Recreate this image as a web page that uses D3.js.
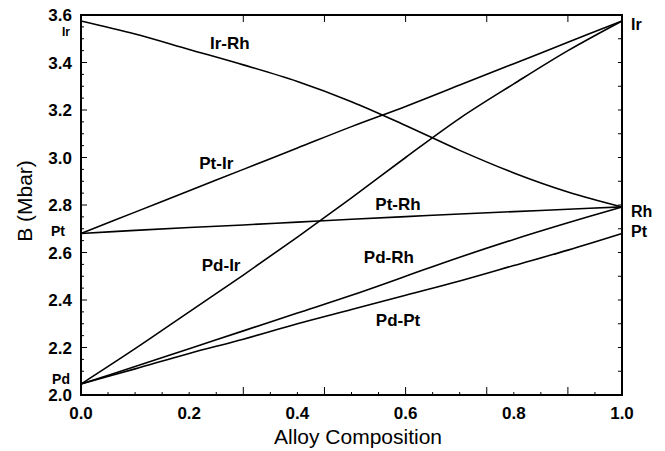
<!DOCTYPE html>
<html>
<head>
<meta charset="utf-8">
<script src="https://cdn.jsdelivr.net/npm/d3@7/dist/d3.min.js"></script>
<style>
  html, body { margin: 0; padding: 0; background: #fff; }
  svg { display: block; font-family: "Liberation Sans", Arial, Helvetica, sans-serif; }
</style>
</head>
<body>
<svg id="chart" width="665" height="451"></svg>
<script>
// Bulk modulus of binary alloys versus composition
const composition = [0, 0.1, 0.2, 0.3, 0.4, 0.5, 0.6, 0.7, 0.8, 0.9, 1.0];

const irRh = [3.575, 3.52, 3.455, 3.39, 3.32, 3.235, 3.135, 3.03, 2.935, 2.855, 2.792];
const ptIr = [2.68, 2.77, 2.86, 2.95, 3.04, 3.13, 3.215, 3.305, 3.395, 3.485, 3.575];
const pdIr = [2.046, 2.195, 2.35, 2.505, 2.665, 2.83, 3.0, 3.165, 3.31, 3.45, 3.575];
const ptRh = [2.68, 2.693, 2.705, 2.716, 2.728, 2.74, 2.751, 2.762, 2.772, 2.782, 2.792];
const pdRh = [2.046, 2.12, 2.195, 2.27, 2.345, 2.42, 2.50, 2.58, 2.655, 2.725, 2.792];
const pdPt = [2.046, 2.11, 2.175, 2.235, 2.30, 2.36, 2.42, 2.48, 2.545, 2.61, 2.68];

const seriesNames = ["Ir-Rh", "Pt-Ir", "Pd-Ir", "Pt-Rh", "Pd-Rh", "Pd-Pt"];
const seriesValues = [irRh, ptIr, pdIr, ptRh, pdRh, pdPt];

// Pure-element values at the two ends of the axis
const leftElements = ["Ir", "Pt", "Pd"];
const leftValues = [3.575, 2.68, 2.046];
const rightElements = ["Ir", "Rh", "Pt"];
const rightValues = [3.575, 2.792, 2.68];

const xTickLabels = [0, 0.2, 0.4, 0.6, 0.8, 1.0];
const yTickLabels = [2.0, 2.2, 2.4, 2.6, 2.8, 3.0, 3.2, 3.4, 3.6];

const margin = { top: 15, right: 43, bottom: 56, left: 81 };
const W = 665, H = 451;
const iw = W - margin.left - margin.right;
const ih = H - margin.top - margin.bottom;

const svg = d3.select("#chart");
const g = svg.append("g").attr("transform", `translate(${margin.left},${margin.top})`);

const x = d3.scaleLinear().domain([0, 1]).range([0, iw]);
const y = d3.scaleLinear().domain([2.0, 3.6]).range([ih, 0]);

// Frame ticks, drawn inward
const minorX = d3.range(0.05, 1.0, 0.05);
const longX = [0.3, 0.45, 0.6, 0.75, 0.9];
const minorY = d3.range(2.05, 3.59, 0.05);
const longY = [2.2, 2.4, 2.6, 2.8, 3.0, 3.2, 3.4];
const isIn = (list, d) => list.some(v => Math.abs(v - d) < 1e-6);

g.append("g").attr("class", "xticks-bottom").selectAll("line").data(minorX).join("line")
  .attr("x1", d => x(d)).attr("x2", d => x(d))
  .attr("y1", ih).attr("y2", d => ih - (isIn(longX, d) ? 8 : 3))
  .attr("stroke", "#000").attr("stroke-width", 1);

g.append("g").attr("class", "xticks-top").selectAll("line").data(longX).join("line")
  .attr("x1", d => x(d)).attr("x2", d => x(d))
  .attr("y1", 0).attr("y2", 7)
  .attr("stroke", "#000").attr("stroke-width", 1);

g.append("g").attr("class", "yticks-left").selectAll("line").data(minorY).join("line")
  .attr("x1", 0).attr("x2", d => (isIn(longY, d) ? 6 : 3))
  .attr("y1", d => y(d)).attr("y2", d => y(d))
  .attr("stroke", "#000").attr("stroke-width", 1);

g.append("g").attr("class", "yticks-right").selectAll("line").data(d3.range(2.1, 3.55, 0.1)).join("line")
  .attr("x1", iw).attr("x2", iw - 4)
  .attr("y1", d => y(d)).attr("y2", d => y(d))
  .attr("stroke", "#000").attr("stroke-width", 1);

// Tick labels
g.append("g").selectAll("text").data(xTickLabels).join("text")
  .attr("x", d => x(d)).attr("y", ih + 24)
  .attr("text-anchor", "middle")
  .attr("font-size", 17).attr("font-weight", "bold").attr("fill", "#000")
  .text(d => d.toFixed(1));

g.append("g").selectAll("text").data(yTickLabels).join("text")
  .attr("x", -9).attr("y", d => y(d) + 6)
  .attr("text-anchor", "end")
  .attr("font-size", 17).attr("font-weight", "bold").attr("fill", "#000")
  .text(d => d.toFixed(1));

// Axis titles
svg.append("text")
  .attr("x", 358).attr("y", 444)
  .attr("text-anchor", "middle")
  .attr("font-size", 21).attr("fill", "#000")
  .text("Alloy Composition");

svg.append("text")
  .attr("transform", "translate(32,201) rotate(-90)")
  .attr("text-anchor", "middle")
  .attr("font-size", 21).attr("fill", "#000")
  .text("B (Mbar)");

// Curves
const line = d3.line()
  .x((d, i) => x(composition[i]))
  .y(d => y(d))
  .curve(d3.curveCatmullRom.alpha(0.5));

g.append("g").selectAll("path").data(seriesValues).join("path")
  .attr("d", d => line(d))
  .attr("fill", "none")
  .attr("stroke", "#000")
  .attr("stroke-width", 1.6);

// Plot frame
g.append("rect")
  .attr("x", 0).attr("y", 0).attr("width", iw).attr("height", ih)
  .attr("fill", "none").attr("stroke", "#000").attr("stroke-width", 2);

// Curve labels, positioned in data coordinates
const labelPos = [
  [0.275, 3.482], [0.25, 2.977], [0.259, 2.547],
  [0.586, 2.804], [0.569, 2.583], [0.586, 2.316]
];
g.append("g").selectAll("text").data(seriesNames).join("text")
  .attr("x", (d, i) => x(labelPos[i][0]))
  .attr("y", (d, i) => y(labelPos[i][1]) + 6)
  .attr("text-anchor", "middle")
  .attr("font-size", 17).attr("font-weight", "bold").attr("fill", "#000")
  .text(d => d);

// Element labels at the ends
const leftOffsets = [15, 2, 0];
const leftX = [-11, -16, -11];
const leftSize = [12, 14, 14];
g.append("g").selectAll("text").data(leftElements).join("text")
  .attr("x", (d, i) => leftX[i])
  .attr("y", (d, i) => y(leftValues[i]) + leftOffsets[i])
  .attr("text-anchor", "end")
  .attr("font-size", (d, i) => leftSize[i]).attr("font-weight", "bold").attr("fill", "#000")
  .text(d => d);

const rightOffsets = [9, 10, 3];
g.append("g").selectAll("text").data(rightElements).join("text")
  .attr("x", iw + 9)
  .attr("y", (d, i) => y(rightValues[i]) + rightOffsets[i])
  .attr("text-anchor", "start")
  .attr("font-size", 16).attr("font-weight", "bold").attr("fill", "#000")
  .text(d => d);
</script>
</body>
</html>
